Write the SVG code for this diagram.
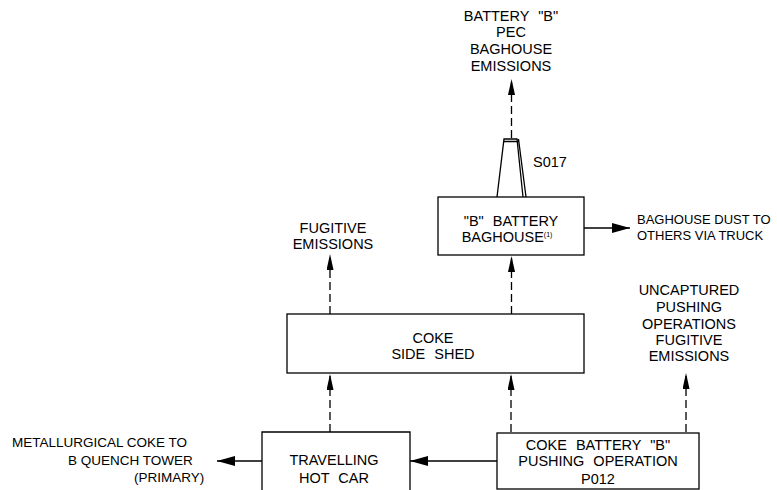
<svg xmlns="http://www.w3.org/2000/svg" width="777" height="490" viewBox="0 0 777 490">
<style>
.bx{fill:#fff;stroke:#000;stroke-width:1.3}
.ln{fill:none;stroke:#000;stroke-width:1.3}
.ds{fill:none;stroke:#000;stroke-width:1.3;stroke-dasharray:8 4}
.cad{font-family:"Liberation Sans",Arial,sans-serif;font-size:14.5px;fill:#000;text-anchor:middle;word-spacing:5px}
.ar{font-family:"Liberation Sans",Arial,sans-serif;font-size:13.5px;fill:#000}
</style>
<defs>
<marker id="ah" viewBox="0 0 18 10" refX="18" refY="5" markerWidth="18" markerHeight="10" markerUnits="userSpaceOnUse" orient="auto">
<path d="M0,0 L18,5 L0,10 Z" fill="#000"/>
</marker>
<marker id="ahn" viewBox="0 0 16 7" refX="16" refY="3.5" markerWidth="16" markerHeight="7" markerUnits="userSpaceOnUse" orient="auto">
<path d="M0,0 L16,3.5 L0,7 Z" fill="#000"/>
</marker>
</defs>
<g id="connectors">
<line class="ds" x1="511.5" y1="138" x2="511.5" y2="79" marker-end="url(#ahn)"/>
<line class="ln" x1="584" y1="228" x2="630" y2="228" marker-end="url(#ah)"/>
<line class="ds" x1="511.5" y1="314" x2="511.5" y2="256" marker-end="url(#ahn)"/>
<line class="ds" x1="330" y1="314" x2="330" y2="254" marker-end="url(#ahn)"/>
<line class="ds" x1="330" y1="432" x2="330" y2="374" marker-end="url(#ahn)"/>
<line class="ds" x1="511" y1="432" x2="511" y2="374" marker-end="url(#ahn)"/>
<line class="ds" x1="686" y1="432" x2="686" y2="373" marker-end="url(#ahn)"/>
<line class="ln" x1="497" y1="461" x2="410" y2="461" marker-end="url(#ah)"/>
<line class="ln" x1="262" y1="461" x2="217" y2="461" marker-end="url(#ah)"/>
</g>
<g id="top-emissions">
<text class="cad" x="511" y="21">BATTERY "B"</text>
<text class="cad" x="511" y="37">PEC</text>
<text class="cad" x="511" y="54">BAGHOUSE</text>
<text class="cad" x="511" y="71">EMISSIONS</text>
</g>
<g id="stack-s017">
<path class="ln" d="M497,197 L504,139 L517,139 L523,197 M504,141.5 L518.5,141.5 M518.5,139 L526,197"/>
<text class="ar" x="533" y="167" style="font-size:14.5px">S017</text>
</g>
<g id="baghouse">
<rect class="bx" x="438" y="197" width="146" height="58"/>
<text class="cad" x="511" y="226">"B" BATTERY</text>
<text class="cad" x="507" y="242">BAGHOUSE<tspan font-size="7" dy="-5">(1)</tspan></text>
</g>
<g id="baghouse-dust">
<text class="ar" x="637" y="224" style="font-size:13px">BAGHOUSE DUST TO</text>
<text class="ar" x="637" y="240" style="font-size:13px">OTHERS VIA TRUCK</text>
</g>
<g id="fugitive-emissions">
<text class="cad" x="333" y="233">FUGITIVE</text>
<text class="cad" x="333" y="249">EMISSIONS</text>
</g>
<g id="coke-side-shed">
<rect class="bx" x="287" y="314" width="297" height="59"/>
<text class="cad" x="433" y="343">COKE</text>
<text class="cad" x="433" y="359">SIDE SHED</text>
</g>
<g id="uncaptured">
<text class="cad" x="689" y="295">UNCAPTURED</text>
<text class="cad" x="689" y="312">PUSHING</text>
<text class="cad" x="689" y="329">OPERATIONS</text>
<text class="cad" x="689" y="345">FUGITIVE</text>
<text class="cad" x="689" y="361">EMISSIONS</text>
</g>
<g id="travelling-hot-car">
<path class="bx" d="M262,495 L262,432 L410,432 L410,495"/>
<text class="cad" x="334" y="465">TRAVELLING</text>
<text class="cad" x="334" y="483">HOT CAR</text>
</g>
<g id="pushing-operation">
<rect class="bx" x="497" y="433" width="202" height="56"/>
<text class="cad" x="598" y="450">COKE BATTERY "B"</text>
<text class="cad" x="598" y="466">PUSHING OPERATION</text>
<text class="ar" x="598" y="484" style="font-size:14.5px;text-anchor:middle">P012</text>
</g>
<g id="metallurgical-coke">
<text class="ar" x="12" y="447">METALLURGICAL COKE TO</text>
<text class="ar" x="68" y="465">B QUENCH TOWER</text>
<text class="ar" x="134" y="482">(PRIMARY)</text>
</g>
</svg>
